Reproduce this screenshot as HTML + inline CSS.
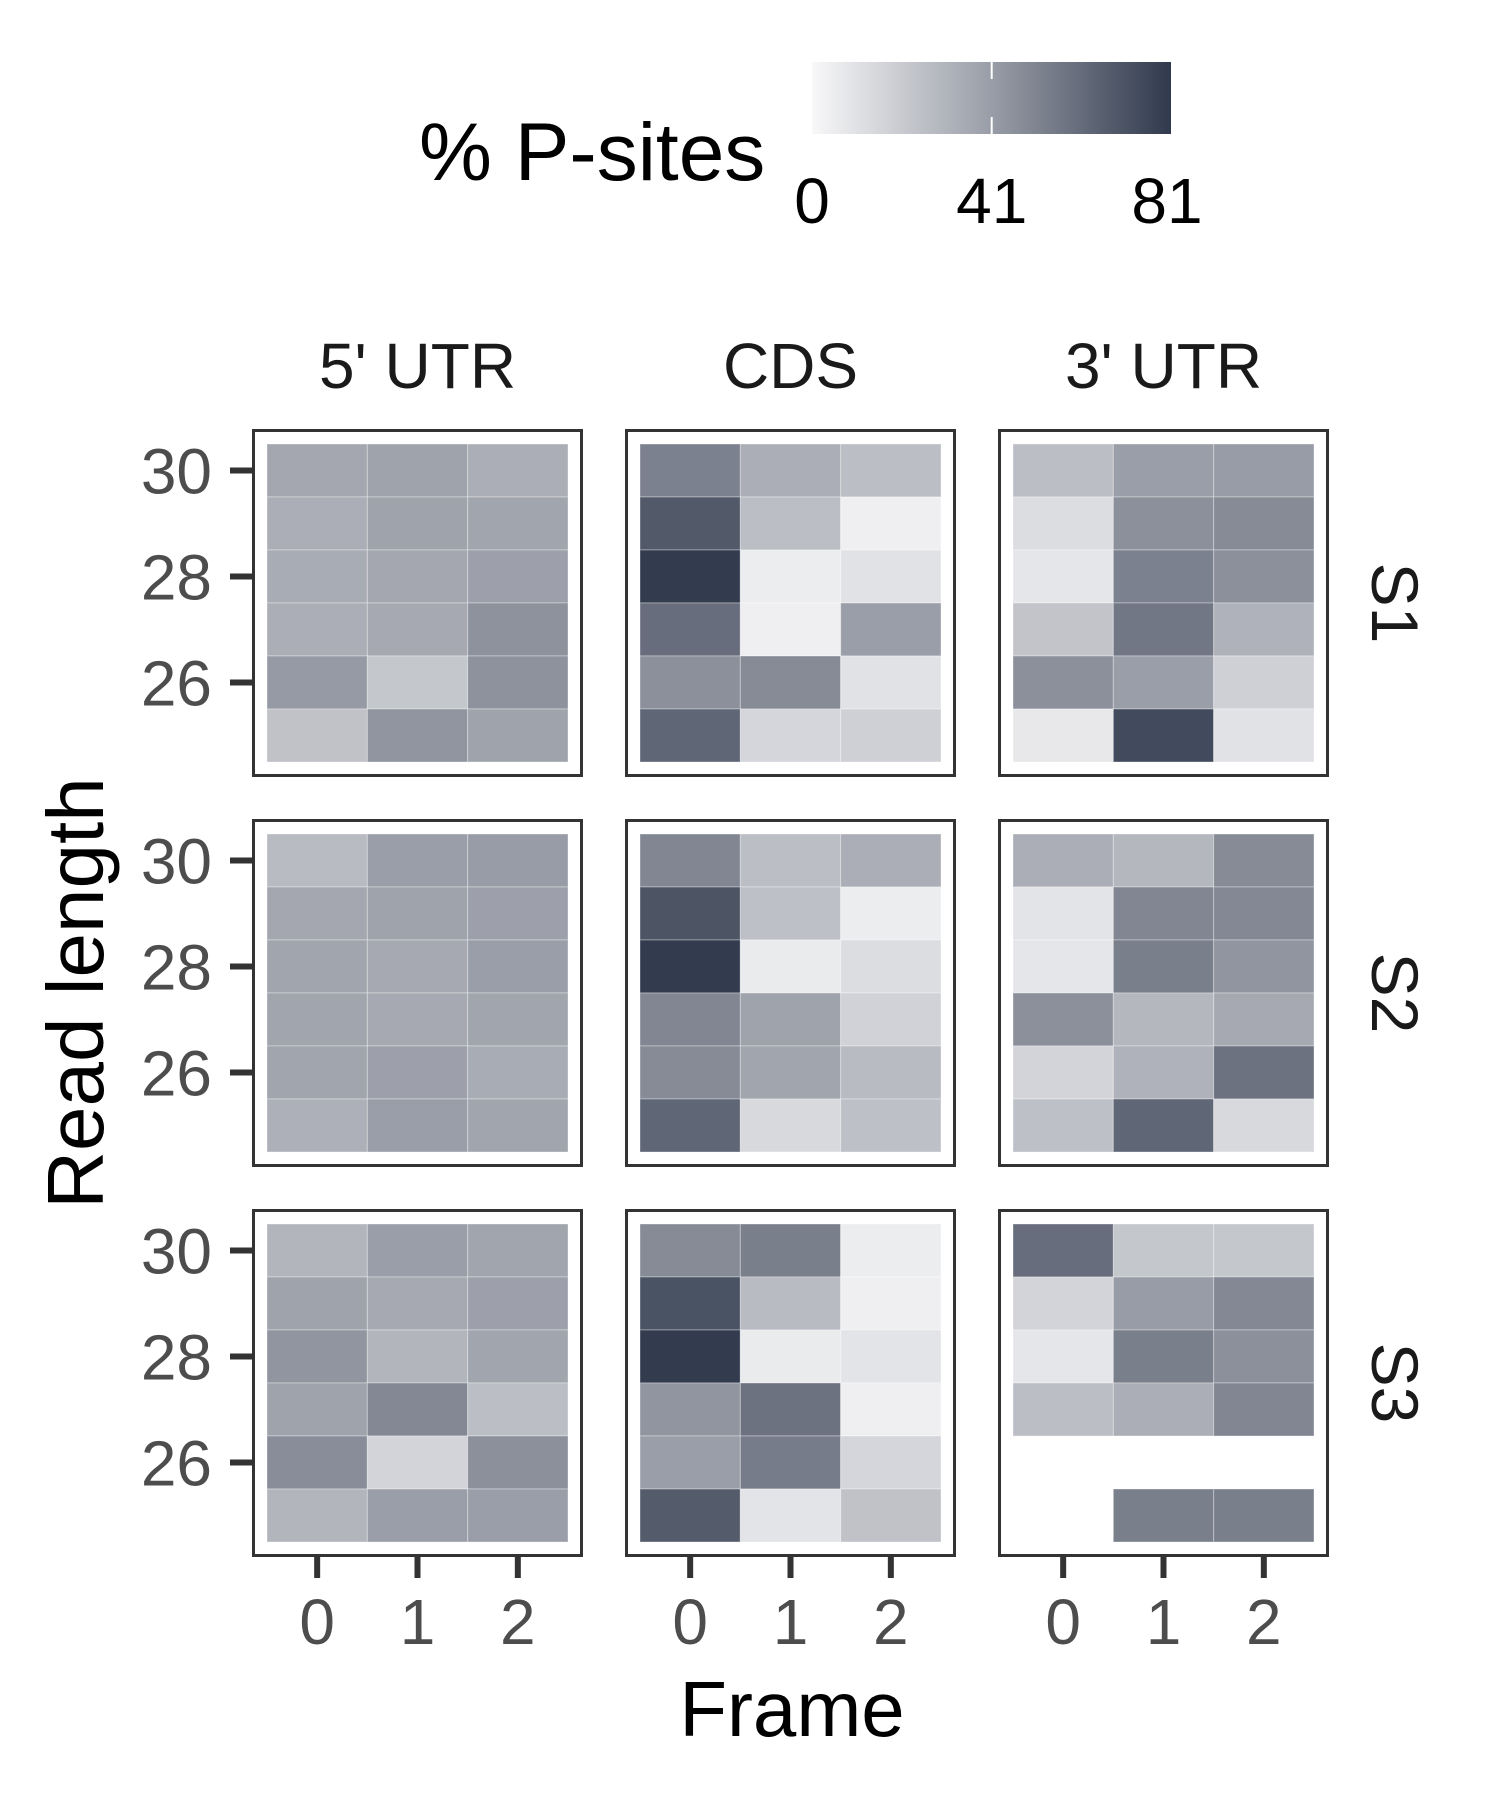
<!DOCTYPE html>
<html><head><meta charset="utf-8"><style>
html,body{margin:0;padding:0;background:#fff}
svg{display:block;font-family:"Liberation Sans",Arial,sans-serif}
</style></head><body>
<svg id="chart" width="1500" height="1800" viewBox="0 0 1500 1800" xmlns="http://www.w3.org/2000/svg">
<defs>
<linearGradient id="grad" x1="0" x2="1" y1="0" y2="0">
<stop offset="0" stop-color="#f8f8f9"/><stop offset="0.506" stop-color="#989ca6"/><stop offset="1" stop-color="#303a4d"/>
</linearGradient>
</defs>
<g>
<text x="419" y="180" font-size="82" fill="#000">% P-sites</text>
<rect x="812" y="62" width="359" height="72" fill="url(#grad)"/>
<g id="legendTicks"></g>
</g>
<g id="panels"></g>
<text x="792" y="1736" font-size="78" text-anchor="middle" fill="#000">Frame</text>
<text transform="translate(103,993) rotate(-90)" font-size="80" text-anchor="middle" fill="#000">Read length</text>
</svg>
<script>
const regions = ["5' UTR", "CDS", "3' UTR"];
const samples = ["S1", "S2", "S3"];
const frames = [0, 1, 2];
const readLengths = [30, 29, 28, 27, 26, 25];
const yTickLabels = [30, 28, 26];
const legendTicks = [0, 41, 81];
// values[sample][region] = rows (30..25) x frames (0,1,2); null = missing
const s1utr5 = [[36,38,33],[33,38,37],[34,36,39],[33,35,45],[42,22,45],[24,44,38]];
const s1cds  = [[52,33,26],[68,26,4],[80,5,10],[60,4,40],[46,48,10],[63,15,18]];
const s1utr3 = [[26,40,41],[12,46,48],[8,52,46],[23,56,31],[46,40,18],[7,74,10]];
const s2utr5 = [[27,40,41],[36,38,39],[37,35,40],[37,35,37],[37,39,34],[32,40,37]];
const s2cds  = [[50,26,33],[70,25,5],[80,6,12],[50,38,17],[48,37,27],[63,14,25]];
const s2utr3 = [[33,29,48],[9,50,49],[8,53,44],[46,29,35],[16,31,58],[25,63,14]];
const s3utr5 = [[30,40,37],[38,35,39],[44,30,37],[38,49,26],[47,16,46],[30,40,40]];
const s3cds  = [[48,53,5],[71,27,4],[80,6,9],[44,58,4],[40,54,15],[67,9,24]];
const s3utr3 = [[60,22,22],[16,41,49],[8,53,46],[26,33,50],[null,null,null],[null,53,53]];
const values = [[s1utr5,s1cds,s1utr3],[s2utr5,s2cds,s2utr3],[s3utr5,s3cds,s3utr3]];

const NS="http://www.w3.org/2000/svg";
const colLeft=[252,625,998], rowTop=[429,819,1209], pw=331, ph=348, inset=15;
const vmax=81;
function hex(c){return [parseInt(c.slice(1,3),16),parseInt(c.slice(3,5),16),parseInt(c.slice(5,7),16)];}
const stops=[[0,hex("#f8f8f9")],[41,hex("#989ca6")],[81,hex("#303a4d")]];
function colorOf(v){
  let a=stops[0],b=stops[1];
  if(v>stops[1][0]){a=stops[1];b=stops[2];}
  let t=Math.max(0,Math.min(1,(v-a[0])/(b[0]-a[0])));
  const c=a[1].map((x,i)=>Math.round(x+(b[1][i]-x)*t));
  return `rgb(${c[0]},${c[1]},${c[2]})`;
}
function el(tag,attrs,parent){const e=document.createElementNS(NS,tag);for(const k in attrs)e.setAttribute(k,attrs[k]);parent.appendChild(e);return e;}
const lg=document.getElementById('legendTicks');
const lx=v=>812+(v/vmax)*355;
legendTicks.forEach(v=>{
  const x=lx(v);
  if(v>0&&v<vmax){
    const t1=el('line',{x1:x,x2:x,y1:62,y2:79,stroke:'#fff','stroke-width':2},lg);
    
    
    const t2=el('line',{x1:x,x2:x,y1:117,y2:134,stroke:'#fff','stroke-width':2},lg);
    
    
  }
  const t=el('text',{x:x,y:223,'font-size':64,'text-anchor':'middle',fill:'#000'},lg);
  t.textContent=v;
  
  
});
const pg=document.getElementById('panels');
regions.forEach((r,ci)=>{
  const st=el('text',{x:colLeft[ci]+pw/2,y:388,'font-size':64,'text-anchor':'middle',fill:'#1a1a1a'},pg);
  st.textContent=r;
  
  
});
samples.forEach((s,ri)=>{
  const cy=rowTop[ri]+ph/2;
  const st=el('text',{transform:`translate(1372,${cy}) rotate(90)`,'font-size':66,'text-anchor':'middle',fill:'#1a1a1a'},pg);
  st.textContent=s;
  
  
});
samples.forEach((s,ri)=>{
  regions.forEach((r,ci)=>{
    const g=el('g',{},pg);
    
    
    const x0=colLeft[ci]+inset, y0=rowTop[ri]+inset;
    const tw=(pw-2*inset)/frames.length, th=(ph-2*inset)/readLengths.length;
    const xs=f=>x0+frames.indexOf(f)*tw;
    const ys=l=>y0+readLengths.indexOf(l)*th;
    readLengths.forEach((len,li)=>{
      frames.forEach((f,fi)=>{
        const v=values[ri][ci][li][fi];
        if(v===null)return;
        const c=el('rect',{x:xs(f),y:ys(len),width:tw,height:th,fill:colorOf(v),stroke:'rgba(255,255,255,0.35)','stroke-width':1},g);
        
        
      });
    });
    const b=el('rect',{x:colLeft[ci]+1.5,y:rowTop[ri]+1.5,width:pw-3,height:ph-3,fill:'none',stroke:'#333','stroke-width':3},g);
    
    
    if(ci===0){
      yTickLabels.forEach(l=>{
        const y=ys(l)+th/2;
        const tk=el('line',{x1:230,x2:colLeft[0],y1:y,y2:y,stroke:'#333','stroke-width':6},g);
        
        
        const tl=el('text',{x:212,y:y+23,'font-size':64,'text-anchor':'end',fill:'#4d4d4d'},g);
        tl.textContent=l;
        
        
      });
    }
    if(ri===samples.length-1){
      frames.forEach(f=>{
        const x=xs(f)+tw/2;
        const tk=el('line',{x1:x,x2:x,y1:rowTop[ri]+ph,y2:rowTop[ri]+ph+21,stroke:'#333','stroke-width':6},g);
        
        
        const tl=el('text',{x:x,y:1644,'font-size':64,'text-anchor':'middle',fill:'#4d4d4d'},g);
        tl.textContent=f;
        
        
      });
    }
  });
});
</script>
</body></html>
